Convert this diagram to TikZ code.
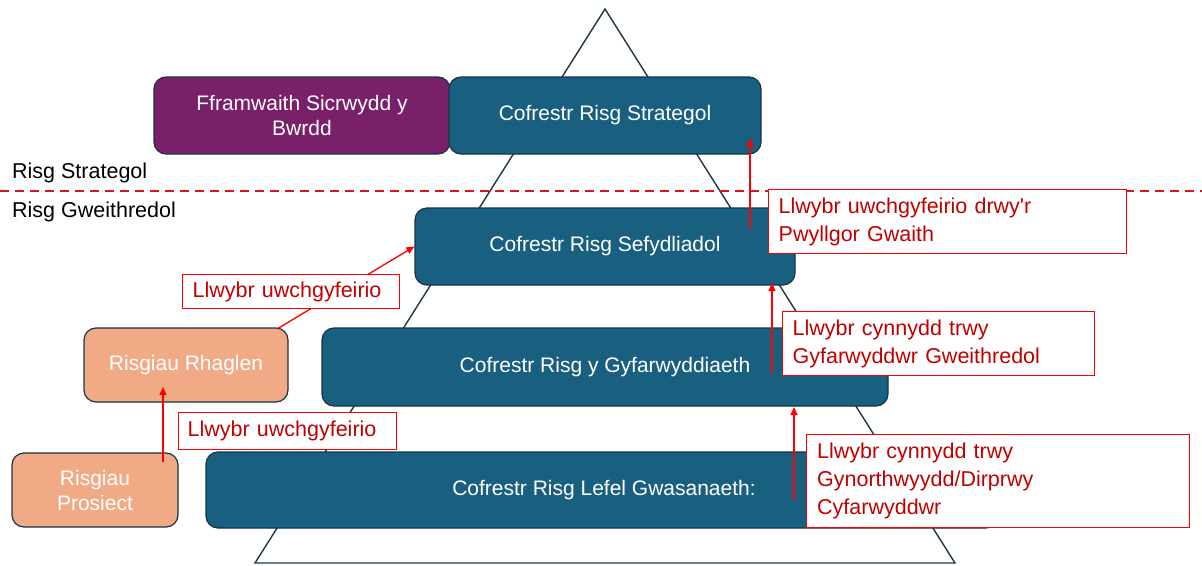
\documentclass[tikz,border=0pt]{standalone}
\usepackage{fontspec}
\setmainfont{Liberation Sans}
\usetikzlibrary{arrows.meta}
\definecolor{boxblue}{RGB}{25,95,128}
\definecolor{boxborder}{RGB}{22,52,68}
\definecolor{boxpurple}{RGB}{122,32,106}
\definecolor{boxorange}{RGB}{240,170,133}
\definecolor{triline}{RGB}{30,55,70}
\definecolor{labeltext}{RGB}{192,0,0}
\definecolor{lred}{RGB}{255,0,0}
\definecolor{dashred}{RGB}{220,20,20}
\begin{document}
\begin{tikzpicture}[x=1pt,y=-1pt,
  box/.style={draw=boxborder, line width=1.2pt, rounded corners=12pt, text=white,
    font=\fontsize{21}{25}\selectfont, align=center, inner sep=0pt},
  lbl/.style={draw=lred, line width=1.3pt, fill=white, text=labeltext,
    font=\fontsize{21.5}{28}\selectfont, align=left, inner xsep=10pt, inner ysep=0pt,
    anchor=north west},
  side/.style={text=black, font=\fontsize{21.5}{25}\selectfont, anchor=west, inner sep=2pt},
  arr/.style={draw=lred, line width=1.3pt, -{Triangle[length=8pt,width=7pt]}},
  tri/.style={draw=triline, line width=1.4pt, line join=miter}]
\useasboundingbox (0,0) rectangle (1202,565);

% pyramid
\coordinate (apex) at (605,9);
\coordinate (br) at (955,563);
\coordinate (bl) at (255,563);
\draw[tri] (apex) -- (br) -- (bl) -- cycle;

% dividing line
\coordinate (dl) at (0,191);
\coordinate (dr) at (1202,191);
\draw[dashred, line width=1.3pt, dash pattern=on 9pt off 6pt] (dl) -- (dr);

\node[side] (rs) at (10,173) {Risg Strategol};
\node[side] (rg) at (10,212) {Risg Gweithredol};

% boxes
\node[box, fill=boxpurple, minimum width=296pt, minimum height=77pt] (fram) at (302,115.5) {Fframwaith Sicrwydd y\\Bwrdd};
\node[box, fill=boxblue, minimum width=312pt, minimum height=77pt] (strat) at (605,115.5) {Cofrestr Risg Strategol};
\node[box, fill=boxblue, minimum width=380pt, minimum height=77pt] (sef) at (605,246.5) {Cofrestr Risg Sefydliadol};
\node[box, fill=boxblue, minimum width=566pt, minimum height=78pt] (gyf) at (605,367) {Cofrestr Risg y Gyfarwyddiaeth};
\node[box, fill=boxblue, minimum width=792pt, minimum height=76pt] (lef) at (602,490) {\hspace*{4pt}Cofrestr Risg Lefel Gwasanaeth:};
\node[box, fill=boxorange, minimum width=204pt, minimum height=74pt] (rhag) at (186,365) {Risgiau Rhaglen};
\node[box, fill=boxorange, minimum width=166pt, minimum height=74pt] (pros) at (95,490) {Risgiau\\Prosiect};

% arrows
\coordinate (a1s) at (750,229);
\coordinate (a1e) at (750,138);
\coordinate (a2s) at (772,373);
\coordinate (a2e) at (772,283);
\coordinate (a3s) at (794,500);
\coordinate (a3e) at (794,407);
\coordinate (a4s) at (163,462);
\coordinate (a4e) at (163,387);
\coordinate (a5s) at (277,329);
\draw[arr] (a1s) -- (a1e);
\draw[arr] (a2s) -- (a2e);
\draw[arr] (a3s) -- (a3e);
\draw[arr] (a4s) -- (a4e);
\draw[arr] (a5s) -- (sef.west);

% labels
\node[lbl, minimum height=64pt, text width=338pt] (l1) at (768,189) {Llwybr uwchgyfeirio drwy\textquotesingle r\\Pwyllgor Gwaith};
\node[lbl, minimum height=64pt, text width=292pt] (l2) at (782,311) {Llwybr cynnydd trwy\\Gyfarwyddwr Gweithredol};
\node[lbl, minimum height=93pt, text width=362pt, inner xsep=10.5pt] (l3) at (806,434) {Llwybr cynnydd trwy\\Gynorthwyydd/Dirprwy\\Cyfarwyddwr};
\node[lbl, minimum height=34pt, text width=197pt] (l4) at (182,274) {Llwybr uwchgyfeirio};
\node[lbl, minimum height=37pt, text width=200pt, inner xsep=9pt] (l5) at (178,412) {Llwybr uwchgyfeirio};
\end{tikzpicture}
\end{document}
